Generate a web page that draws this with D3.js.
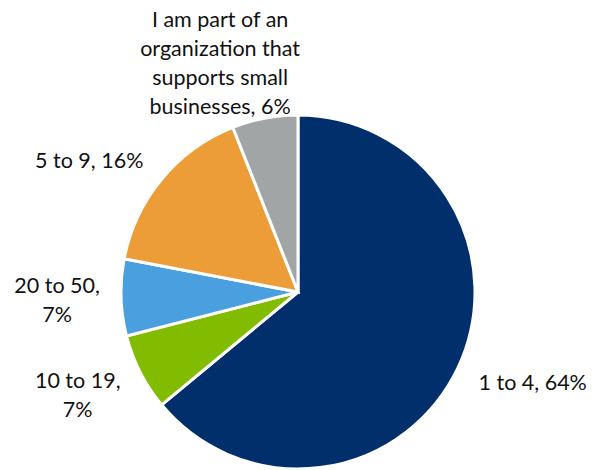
<!DOCTYPE html>
<html>
<head>
<meta charset="utf-8">
<script src="https://cdn.jsdelivr.net/npm/d3@7"></script>
<style>
  html, body { margin: 0; padding: 0; background: #fff; }
  svg { display: block; }
  text { font-family: Lato, "Open Sans", sans-serif; fill: #111; }
</style>
</head>
<body>
<div id="chart"></div>
<script>
// Company size breakdown (share of respondents, %)
const categories = ["1 to 4", "10 to 19", "20 to 50", "5 to 9",
  "I am part of an organization that supports small businesses"];
const values = [64, 7, 7, 16, 6];
const colors = ["#002F6C", "#82BC00", "#4A9FDF", "#ED9D37", "#A2A5A6"];

const W = 598, H = 470;
const cx = 298, cy = 292, radius = 177;
const fontSize = 21.5, lineHeight = 29;

// label layout: wrap width and nudge relative to the slice's outer point
const labelWrap = [400, 100, 100, 200, 180];
const labelNudge = [[13, -14], [-2, -8], [4, 0], [-20, 24], [-32, 11]];

const svg = d3.select("#chart").append("svg")
  .attr("width", W).attr("height", H);

const g = svg.append("g").attr("transform", `translate(${cx},${cy})`);

const pie = d3.pie().sort(null).value(d => d.value);
const arcs = pie(categories.map((c, i) => ({ cat: c, value: values[i], i })));

const arc = d3.arc().innerRadius(0).outerRadius(radius);

g.selectAll("path.slice")
  .data(arcs)
  .join("path")
  .attr("class", "slice")
  .attr("d", arc)
  .attr("fill", d => colors[d.data.i])
  .attr("stroke", "#fff")
  .attr("stroke-width", 3)
  .attr("stroke-linejoin", "miter");

// word wrap helper using measured text widths
const measure = svg.append("text").attr("font-size", fontSize).attr("visibility", "hidden");
function textWidth(s) { measure.text(s); return measure.node().getComputedTextLength(); }
function wrap(str, maxW) {
  const words = str.split(" ");
  const lines = [];
  let cur = "";
  words.forEach(w => {
    const trial = cur ? cur + " " + w : w;
    if (cur && textWidth(trial) > maxW) { lines.push(cur); cur = w; }
    else cur = trial;
  });
  if (cur) lines.push(cur);
  return lines;
}

const labelR = 245;
const capH = fontSize * 0.72;

arcs.forEach((d, k) => {
  const mid = (d.startAngle + d.endAngle) / 2;
  const bx = Math.sin(mid) * labelR + labelNudge[k][0];
  const by = -Math.cos(mid) * labelR + labelNudge[k][1];
  const lines = wrap(`${d.data.cat}, ${d.data.value}%`, labelWrap[k]);
  const n = lines.length;
  const y0 = by - ((n - 1) * lineHeight - capH) / 2;
  const t = g.append("text")
    .attr("text-anchor", "middle")
    .attr("font-size", fontSize);
  lines.forEach((ln, j) => {
    t.append("tspan").attr("x", bx).attr("y", y0 + j * lineHeight).text(ln);
  });
});
measure.remove();
</script>
</body>
</html>
